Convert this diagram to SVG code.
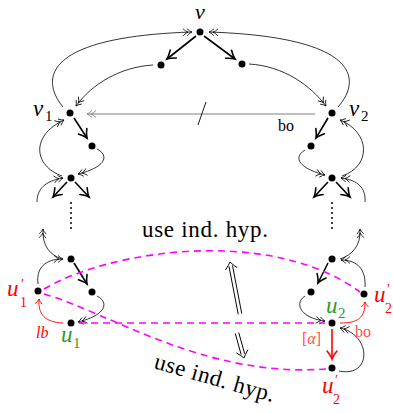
<svg xmlns="http://www.w3.org/2000/svg" width="393" height="413" viewBox="0 0 393 413">
<style>
.m{font-family:"Liberation Serif",serif;font-style:italic}
.n{font-family:"Liberation Serif",serif;font-style:normal}
.thin{fill:none;stroke:#000;stroke-width:0.8}
.thick{fill:none;stroke:#000;stroke-width:1.6}
.dash{fill:none;stroke:#ff00ff;stroke-width:1.6;stroke-dasharray:7 5}
.dot{fill:#000}
.red{fill:#ff0000}
.lred{fill:#ff4d4d}
.green{fill:#2c9a2c}
</style>
<defs>
<marker id="dbl" markerUnits="userSpaceOnUse" orient="auto" refX="0" refY="0" markerWidth="20" markerHeight="20" overflow="visible">
<path d="M-5,-3.5 Q-2,-0.6 0,0 Q-2,0.6 -5,3.5 M-9,-3.5 Q-6,-0.6 -4,0 Q-6,0.6 -9,3.5" fill="none" stroke="#000" stroke-width="0.8"/>
</marker>
<marker id="dblg" markerUnits="userSpaceOnUse" orient="auto" refX="0" refY="0" markerWidth="20" markerHeight="20" overflow="visible">
<path d="M-5,-3.5 Q-2,-0.6 0,0 Q-2,0.6 -5,3.5 M-9,-3.5 Q-6,-0.6 -4,0 Q-6,0.6 -9,3.5" fill="none" stroke="#808080" stroke-width="0.9"/>
</marker>
<marker id="thk" markerUnits="userSpaceOnUse" orient="auto" refX="0" refY="0" markerWidth="20" markerHeight="20" overflow="visible">
<path d="M-8,-5 Q-3,-1 0,0 Q-3,1 -8,5" fill="none" stroke="#000" stroke-width="1.6" stroke-linecap="round"/>
</marker>
<marker id="thkr" markerUnits="userSpaceOnUse" orient="auto" refX="0" refY="0" markerWidth="20" markerHeight="20" overflow="visible">
<path d="M-8,-5 Q-3,-1 0,0 Q-3,1 -8,5" fill="none" stroke="#ff0000" stroke-width="1.6" stroke-linecap="round"/>
</marker>
<marker id="sr" markerUnits="userSpaceOnUse" orient="auto" refX="0" refY="0" markerWidth="20" markerHeight="20" overflow="visible">
<path d="M-5,-3.5 Q-2,-0.6 0,0 Q-2,0.6 -5,3.5" fill="none" stroke="#ff0000" stroke-width="0.9"/>
</marker>
</defs>
<g id="connectors">
<path class="thick" d="M196,36 L167,59" marker-end="url(#thk)"/>
<path class="thick" d="M204,36 L235,59" marker-end="url(#thk)"/>
<path class="thick" d="M74,118 L87,138" marker-end="url(#thk)"/>
<path class="thick" d="M328,118 L316,138" marker-end="url(#thk)"/>
<path class="thick" d="M67,182 L53,197" marker-end="url(#thk)"/>
<path class="thick" d="M75,182 L89,197" marker-end="url(#thk)"/>
<path class="thick" d="M328,182 L314,197" marker-end="url(#thk)"/>
<path class="thick" d="M336,182 L350,197" marker-end="url(#thk)"/>
<path class="thick" d="M74,263 L87,284" marker-end="url(#thk)"/>
<path class="thick" d="M328,263 L318,283" marker-end="url(#thk)"/>
<path d="M332,329 L332,359" fill="none" stroke="#ff0000" stroke-width="1.6" marker-end="url(#thkr)"/>
<path class="thin" d="M153,65 C120,67 92,84 76,106" marker-end="url(#dbl)"/>
<path class="thin" d="M249,64 C284,66 311,86 326,106" marker-end="url(#dbl)"/>
<path class="thin" d="M63,107 C42,82 38,37 192,32" marker-end="url(#dbl)"/>
<path class="thin" d="M338,107 C362,80 360,37 209,32" marker-end="url(#dbl)"/>
<path d="M315,114 L87,114" fill="none" stroke="#808080" stroke-width="1" marker-end="url(#dblg)"/>
<path d="M198,125 L206,102" fill="none" stroke="#000" stroke-width="0.9"/>
<path class="thin" d="M97,149 C109,155 107,167 78,174" marker-end="url(#dbl)"/>
<path class="thin" d="M305,150 C293,157 298,168 325,175" marker-end="url(#dbl)"/>
<path class="thin" d="M62,176 C34,166 30,136 64,120" marker-end="url(#dbl)"/>
<path class="thin" d="M37,202 C37,189 45,181 63,178" marker-end="url(#dbl)"/>
<path class="thin" d="M342,176 C372,166 370,132 340,120" marker-end="url(#dbl)"/>
<path class="thin" d="M365,202 C366,188 358,180 341,178" marker-end="url(#dbl)"/>
<path class="thin" d="M62,259 C50,255 42,246 43,229" marker-end="url(#dbl)"/>
<path class="thin" d="M38,284 C36,268 45,259 63,259" marker-end="url(#dbl)"/>
<path class="thin" d="M340,259 C352,255 361,246 360,229" marker-end="url(#dbl)"/>
<path class="thin" d="M365,287 C366,270 358,260 341,260" marker-end="url(#dbl)"/>
<path class="thin" d="M97,296 C109,302 107,315 78,322" marker-end="url(#dbl)"/>
<path class="thin" d="M305,296 C294,303 300,318 325,321" marker-end="url(#dbl)"/>
<path class="thin" d="M339,371 C372,378 372,335 340,328" marker-end="url(#dbl)"/>
<path d="M63,323 C45,322 38,315 39,299" fill="none" stroke="#ff0000" stroke-width="0.9" marker-end="url(#sr)"/>
<path d="M340,323 C358,323 365,318 365,302" fill="none" stroke="#ff0000" stroke-width="0.9" marker-end="url(#sr)"/>
<path d="M71,203 L71,229" fill="none" stroke="#000" stroke-width="2" stroke-linecap="round" stroke-dasharray="0 5"/>
<path d="M332,203 L332,229" fill="none" stroke="#000" stroke-width="2" stroke-linecap="round" stroke-dasharray="0 5"/>
<path class="dash" d="M44,289 C110,250 270,226 360,292"/>
<path class="dash" d="M79,323 L325,323"/>
<path class="dash" d="M44,294 C110,313 205,378 326,369"/>
<g transform="translate(240,314) rotate(-100.9)">
<path d="M0,-1.8 L49,-1.8 M0,1.8 L49,1.8" fill="none" stroke="#000" stroke-width="0.9"/>
<path d="M46,-6 Q50,-2 53,0 Q50,2 46,6" fill="none" stroke="#000" stroke-width="0.9"/>
</g>
<g transform="translate(237,333) rotate(74.4)">
<path d="M0,-1.8 L22,-1.8 M0,1.8 L22,1.8" fill="none" stroke="#000" stroke-width="0.9"/>
<path d="M19,-6 Q23,-2 26,0 Q23,2 19,6" fill="none" stroke="#000" stroke-width="0.9"/>
</g>
</g>
<g id="node-v"><circle class="dot" cx="200" cy="32" r="3.5"/><text class="m" x="195" y="19" font-size="22">v</text></g>
<g id="node-a"><circle class="dot" cx="161" cy="65" r="3.5"/></g>
<g id="node-b"><circle class="dot" cx="242" cy="64" r="3.5"/></g>
<g id="node-v1"><circle class="dot" cx="70" cy="113" r="3.5"/><text class="m" x="33" y="116" font-size="23">v</text><text class="n" x="45" y="121" font-size="15">1</text></g>
<g id="node-v2"><circle class="dot" cx="332" cy="113" r="3.5"/><text class="m" x="349" y="116" font-size="23">v</text><text class="n" x="361" y="121" font-size="15">2</text></g>
<g id="label-bo"><text class="n" x="278" y="131" font-size="16">bo</text></g>
<g id="node-c"><circle class="dot" cx="92" cy="146" r="3.5"/></g>
<g id="node-d"><circle class="dot" cx="311" cy="146" r="3.5"/></g>
<g id="node-e"><circle class="dot" cx="71" cy="178" r="3.5"/></g>
<g id="node-f"><circle class="dot" cx="332" cy="178" r="3.5"/></g>
<g id="label-hyp1"><text class="n" x="142" y="237" font-size="23" textLength="126" lengthAdjust="spacing">use ind. hyp.</text></g>
<g id="node-g"><circle class="dot" cx="71" cy="259" r="3.5"/></g>
<g id="node-h"><circle class="dot" cx="92" cy="292" r="3.5"/></g>
<g id="node-u1p"><circle class="dot" cx="38" cy="291" r="3.5"/><text class="m red" x="7" y="296" font-size="23">u</text><text class="n red" x="21" y="289" font-size="14">′</text><text class="n red" x="20" y="307" font-size="14">1</text></g>
<g id="node-u1"><circle class="dot" cx="71" cy="323" r="3.5"/><text class="m green" x="61" y="342" font-size="23">u</text><text class="n green" x="73" y="348" font-size="15">1</text></g>
<g id="label-lb"><text class="m red" x="36" y="338" font-size="16">lb</text></g>
<g id="node-g2"><circle class="dot" cx="332" cy="259" r="3.5"/></g>
<g id="node-i"><circle class="dot" cx="311" cy="292" r="3.5"/></g>
<g id="node-u2p-right"><circle class="dot" cx="364" cy="294" r="3.5"/><text class="m red" x="374" y="302" font-size="23">u</text><text class="n red" x="387" y="294" font-size="14">′</text><text class="n red" x="385" y="313" font-size="14">2</text></g>
<g id="node-u2"><circle class="dot" cx="332" cy="323" r="3.5"/><text class="m green" x="326" y="313" font-size="23">u</text><text class="n green" x="338" y="318" font-size="15">2</text></g>
<g id="label-bo2"><text class="n lred" x="355" y="337" font-size="16">bo</text></g>
<g id="label-alpha"><text class="lred" x="302" y="344" font-size="16"><tspan class="n">[</tspan><tspan class="m">α</tspan><tspan class="n">]</tspan></text></g>
<g id="node-u2p-bottom"><circle class="dot" cx="332" cy="368" r="3.5"/><text class="m red" x="322" y="393" font-size="23">u</text><text class="n red" x="335" y="385" font-size="14">′</text><text class="n red" x="333" y="404" font-size="14">2</text></g>
<g id="label-hyp2"><text class="n" x="153" y="368" font-size="23" textLength="124" lengthAdjust="spacing" transform="rotate(16 153 368)">use ind. hyp.</text></g>
</svg>
